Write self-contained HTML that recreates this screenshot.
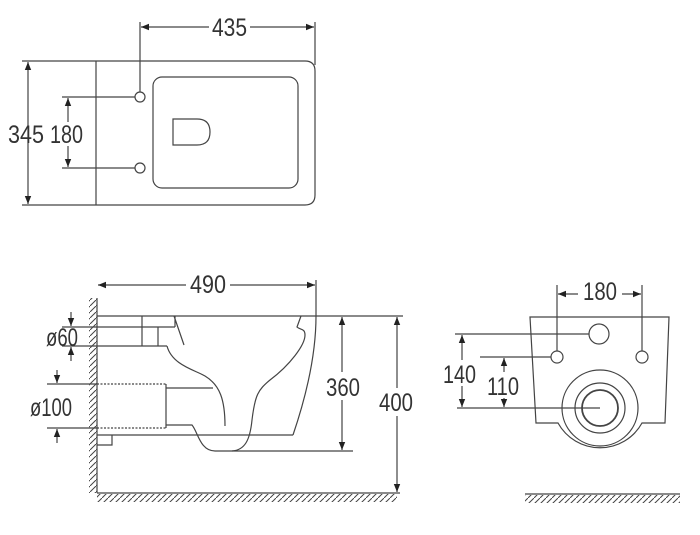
<!DOCTYPE html>
<html><head><meta charset="utf-8"><style>html,body{margin:0;padding:0;background:#fff}svg{display:block}</style></head>
<body>
<svg width="700" height="535" viewBox="0 0 700 535" xmlns="http://www.w3.org/2000/svg">
<defs>
<marker id="a" viewBox="0 0 10 10" refX="10" refY="5" markerWidth="8" markerHeight="8" orient="auto-start-reverse" markerUnits="userSpaceOnUse"><path d="M0,1 L10,5 L0,9 z" fill="#222"/></marker>
<pattern id="hw" width="6" height="6" patternUnits="userSpaceOnUse"><path d="M0,6 L6,0" stroke="#444" stroke-width="1"/></pattern>
</defs>
<g fill="none" stroke="#444" stroke-width="1.2">
<path d="M22,61 L305,61 Q315,61 315,71 L315,195 Q315,205 305,205 L22,205"/>
<line x1="96" y1="61" x2="96" y2="205"/>
<rect x="153" y="77" width="145" height="111" rx="9"/>
<circle cx="140" cy="97" r="5"/>
<circle cx="140" cy="168" r="5"/>
<path d="M173,119 L197,119 Q210,119 210,132 Q210,145 197,145 L173,145 Z"/>
<line x1="140" y1="22" x2="140" y2="92"/>
<line x1="315" y1="22" x2="315" y2="65"/>
<line x1="141" y1="27" x2="209" y2="27" marker-start="url(#a)"/>
<line x1="250" y1="27" x2="314" y2="27" marker-end="url(#a)"/>
<line x1="28" y1="62" x2="28" y2="204" marker-start="url(#a)" marker-end="url(#a)"/>
<line x1="62" y1="97" x2="135" y2="97"/>
<line x1="62" y1="168" x2="135" y2="168"/>
<line x1="68" y1="98" x2="68" y2="122" marker-start="url(#a)"/>
<line x1="68" y1="146" x2="68" y2="167" marker-end="url(#a)"/>

<line x1="97" y1="298" x2="97" y2="493"/>
<line x1="97" y1="493" x2="400" y2="493"/>
<line x1="97" y1="316" x2="403" y2="316"/>
<line x1="316" y1="280" x2="316" y2="316"/>
<path d="M316,316 C316,345 310,385 293,435"/>
<line x1="98" y1="285" x2="186" y2="285" marker-start="url(#a)"/>
<line x1="230" y1="285" x2="315" y2="285" marker-end="url(#a)"/>
<line x1="97" y1="435" x2="293" y2="435"/>
<path d="M97,445 L112,445 L112,435"/>
<line x1="62" y1="327" x2="175" y2="327"/>
<line x1="62" y1="346" x2="167" y2="346"/>
<path d="M142,316 L142,346 M158,327 L158,346 M175,316 L175,327 M174,316 L184,345"/>
<line x1="71" y1="312" x2="71" y2="326" marker-end="url(#a)"/>
<line x1="71" y1="361" x2="71" y2="347" marker-end="url(#a)"/>
<path d="M167,346 C172,365 195,370 205,376 C220,385 225,400 225,426"/>
<line x1="47" y1="384" x2="97" y2="384"/>
<line x1="47" y1="428" x2="97" y2="428"/>
<path d="M97,384 L166,384 M97,428 L166,428" stroke-dasharray="2,1.5"/>
<line x1="166" y1="384" x2="166" y2="428"/>
<line x1="166" y1="388" x2="213" y2="388"/>
<line x1="57" y1="370" x2="57" y2="383" marker-end="url(#a)"/>
<line x1="57" y1="443" x2="57" y2="429" marker-end="url(#a)"/>
<path d="M166,425 L192,425 C198,432 200,451 215,451 L353,451"/>
<path d="M232,451 C245,450 250,440 252,420 C255,395 258,390 270,380 C290,365 305,345 305,335 C305,328 300,330 297,327 L301,316"/>
<line x1="342" y1="317" x2="342" y2="372" marker-start="url(#a)"/>
<line x1="342" y1="400" x2="342" y2="450" marker-end="url(#a)"/>
<line x1="397" y1="317" x2="397" y2="388" marker-start="url(#a)"/>
<line x1="397" y1="416" x2="397" y2="492" marker-end="url(#a)"/>

<path d="M530,317 L669,317 L665,423 L642,423 A48,48 0 0 1 558,423 L536,423 Z"/>
<circle cx="600" cy="408" r="38"/>
<circle cx="600" cy="408" r="25"/>
<circle cx="600" cy="408" r="18" stroke-width="1.8"/>
<circle cx="599" cy="334" r="10"/>
<circle cx="557" cy="357" r="6"/>
<circle cx="642" cy="357" r="6"/>
<line x1="557" y1="285" x2="557" y2="351"/>
<line x1="642" y1="285" x2="642" y2="351"/>
<line x1="558" y1="294" x2="578" y2="294" marker-start="url(#a)"/>
<line x1="622" y1="294" x2="641" y2="294" marker-end="url(#a)"/>
<line x1="455" y1="334" x2="589" y2="334"/>
<line x1="457" y1="408" x2="600" y2="408"/>
<line x1="480" y1="357" x2="551" y2="357"/>
<line x1="462" y1="335" x2="462" y2="360" marker-start="url(#a)"/>
<line x1="462" y1="386" x2="462" y2="407" marker-end="url(#a)"/>
<line x1="504" y1="358" x2="504" y2="372" marker-start="url(#a)"/>
<line x1="504" y1="398" x2="504" y2="407" marker-end="url(#a)"/>
<line x1="525" y1="494" x2="680" y2="494"/>
</g>
<rect x="89" y="298" width="8" height="195" fill="url(#hw)"/>
<rect x="97" y="494" width="300" height="8" fill="url(#hw)"/>
<rect x="525" y="495" width="155" height="8" fill="url(#hw)"/>
<g font-family="Liberation Sans, sans-serif" font-size="25" fill="#333">
<text x="212" y="36" textLength="35" lengthAdjust="spacingAndGlyphs">435</text>
<text x="8" y="143" textLength="36" lengthAdjust="spacingAndGlyphs">345</text>
<text x="50" y="143" textLength="33" lengthAdjust="spacingAndGlyphs">180</text>
<text x="190" y="293" textLength="36" lengthAdjust="spacingAndGlyphs">490</text>
<text x="46" y="346" textLength="32" lengthAdjust="spacingAndGlyphs">ø60</text>
<text x="30" y="416" textLength="42" lengthAdjust="spacingAndGlyphs">ø100</text>
<text x="326" y="396" textLength="34" lengthAdjust="spacingAndGlyphs">360</text>
<text x="379" y="411" textLength="34" lengthAdjust="spacingAndGlyphs">400</text>
<text x="583" y="300" textLength="34" lengthAdjust="spacingAndGlyphs">180</text>
<text x="443" y="383" textLength="33" lengthAdjust="spacingAndGlyphs">140</text>
<text x="487" y="395" textLength="32" lengthAdjust="spacingAndGlyphs">110</text>
</g>
</svg>
</body></html>
